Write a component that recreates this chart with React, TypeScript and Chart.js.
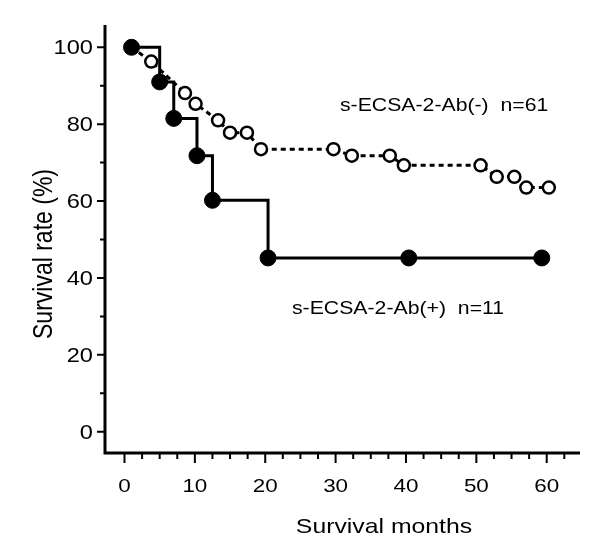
import React, { useEffect, useRef } from "react";
import { Chart, registerables } from "chart.js";

Chart.register(...registerables);

// Kaplan–Meier style data
const posMonths = [1, 5, 7, 10.3, 12.5, 20.4, 40.4, 59.3];
const posSurvival = [100, 91, 81.5, 71.8, 60.2, 45.2, 45.2, 45.2];

const negMonths = [1, 3.8, 8.6, 10.1, 13.3, 15.0, 17.4, 19.4, 29.7, 32.3, 37.7, 39.7, 50.6, 52.9, 55.4, 57.1, 60.3];
const negSurvival = [100, 96.3, 88.1, 85.3, 81.0, 77.8, 77.8, 73.5, 73.5, 71.8, 71.8, 69.3, 69.3, 66.3, 66.3, 63.5, 63.5];

const xMajorTicks = [0, 10, 20, 30, 40, 50, 60];
const xMinorTicks = [2.5, 5, 7.5, 12.5, 15, 17.5, 22.5, 25, 27.5, 32.5, 35, 37.5, 42.5, 45, 47.5, 52.5, 55, 57.5, 62.5];
const yMajorTicks = [0, 20, 40, 60, 80, 100];
const yMinorTicks = [10, 30, 50, 70, 90];

const xTitle = "Survival months";
const yTitle = "Survival rate (%)";
const negLabel = "s-ECSA-2-Ab(-)  n=61";
const posLabel = "s-ECSA-2-Ab(+)  n=11";

const FONT = "'Liberation Sans', Arial, sans-serif";
const SX = 1.18;

function stretchedText(
  ctx: CanvasRenderingContext2D,
  text: string,
  x: number,
  y: number,
  size: number,
  align: CanvasTextAlign
) {
  ctx.save();
  ctx.translate(x, y);
  ctx.scale(SX, 1);
  ctx.font = `${size}px ${FONT}`;
  ctx.textAlign = align;
  ctx.textBaseline = "alphabetic";
  ctx.fillStyle = "#000";
  ctx.fillText(text, 0, 0);
  ctx.restore();
}

const axesPlugin = {
  id: "axesPlugin",
  afterDraw(chart: any) {
    const ctx: CanvasRenderingContext2D = chart.ctx;
    const xs = chart.scales.x;
    const ys = chart.scales.y;
    const { left, right, top, bottom } = chart.chartArea;
    ctx.save();
    ctx.strokeStyle = "#000";
    ctx.lineCap = "butt";
    // axis lines
    ctx.lineWidth = 3;
    ctx.beginPath();
    ctx.moveTo(left, top);
    ctx.lineTo(left, bottom + 1.5);
    ctx.moveTo(left - 1.5, bottom);
    ctx.lineTo(right, bottom);
    ctx.stroke();
    // ticks
    ctx.lineWidth = 2;
    ctx.beginPath();
    for (const v of xMajorTicks) {
      const px = xs.getPixelForValue(v);
      ctx.moveTo(px, bottom);
      ctx.lineTo(px, bottom + 10);
    }
    for (const v of xMinorTicks) {
      const px = xs.getPixelForValue(v);
      ctx.moveTo(px, bottom);
      ctx.lineTo(px, bottom + 6);
    }
    for (const v of yMajorTicks) {
      const py = ys.getPixelForValue(v);
      ctx.moveTo(left, py);
      ctx.lineTo(left - 8, py);
    }
    for (const v of yMinorTicks) {
      const py = ys.getPixelForValue(v);
      ctx.moveTo(left, py);
      ctx.lineTo(left - 5, py);
    }
    ctx.stroke();
    ctx.restore();

    // tick labels
    for (const v of xMajorTicks) {
      stretchedText(ctx, String(v), xs.getPixelForValue(v), 492, 19, "center");
    }
    for (const v of yMajorTicks) {
      stretchedText(ctx, String(v), 93, ys.getPixelForValue(v) + 7, 20, "right");
    }
    // axis titles
    stretchedText(ctx, xTitle, 384, 533, 21, "center");
    ctx.save();
    ctx.translate(42, 254);
    ctx.scale(SX, 1);
    ctx.rotate(-Math.PI / 2);
    ctx.font = `23px ${FONT}`;
    ctx.textAlign = "center";
    ctx.textBaseline = "alphabetic";
    ctx.fillStyle = "#000";
    ctx.fillText(yTitle, 0, 8.2);
    ctx.restore();
    // group labels
    stretchedText(ctx, negLabel, 340, 111, 18, "left");
    stretchedText(ctx, posLabel, 292, 314, 18, "left");
  },
};

export default function App() {
  const ref = useRef<HTMLCanvasElement | null>(null);
  useEffect(() => {
    if (!ref.current) return;
    const chart = new Chart(ref.current, {
      type: "line",
      data: {
        datasets: [
          {
            label: "pos",
            data: posMonths.map((m, i) => ({ x: m, y: posSurvival[i] })),
            borderColor: "#000",
            borderWidth: 3,
            stepped: "before",
            pointRadius: 8,
            pointBackgroundColor: "#000",
            pointBorderColor: "#000",
            pointBorderWidth: 1,
            fill: false,
            clip: false,
            borderJoinStyle: "miter",
          },
          {
            label: "neg",
            data: negMonths.map((m, i) => ({ x: m, y: negSurvival[i] })),
            borderColor: "#000",
            borderWidth: 3,
            borderDash: [5, 4],
            stepped: false,
            tension: 0,
            pointRadius: 6,
            pointBackgroundColor: "#fff",
            pointBorderColor: "#000",
            pointBorderWidth: 2.5,
            fill: false,
            clip: false,
          },
        ],
      } as any,
      options: {
        animation: false,
        responsive: false,
        layout: { padding: { top: 25, right: 20, left: 0, bottom: 0 } },
        plugins: { legend: { display: false }, tooltip: { enabled: false } },
        scales: {
          x: {
            type: "linear",
            min: -2.77,
            max: 64.73,
            grid: { display: false },
            border: { display: false },
            ticks: { display: false },
            afterFit: (s: any) => {
              s.height = 104;
            },
          },
          y: {
            type: "linear",
            min: -5.54,
            max: 105.8,
            grid: { display: false },
            border: { display: false },
            ticks: { display: false },
            afterFit: (s: any) => {
              s.width = 105;
            },
          },
        },
      } as any,
      plugins: [axesPlugin],
    });
    return () => chart.destroy();
  }, []);
  return (
    <div style={{ position: "absolute", left: 0, top: 0, width: 600, height: 557, background: "#fff" }}>
      <canvas ref={ref} width={600} height={557} style={{ display: "block" }} />
    </div>
  );
}
